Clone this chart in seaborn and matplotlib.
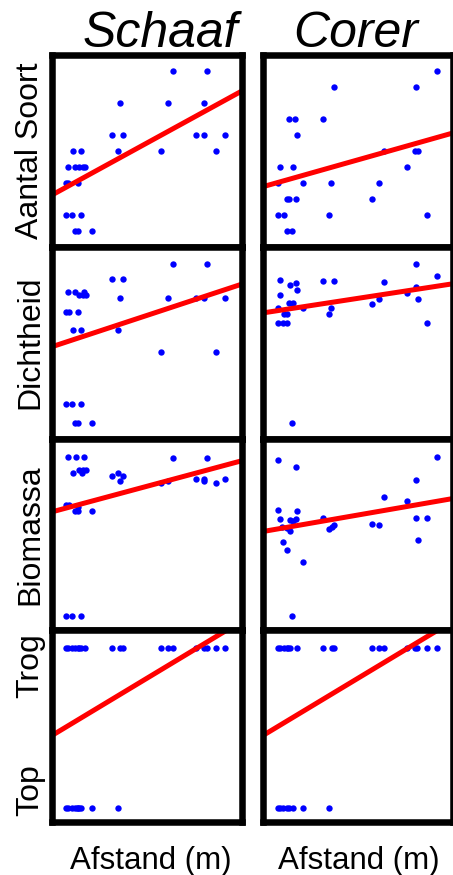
import matplotlib
matplotlib.use("Agg")
import matplotlib.pyplot as plt
import seaborn as sns

sns.set_theme(style="white")
plt.rcParams["font.family"] = ["Liberation Sans", "DejaVu Sans"]

# ---- data: distance (m) and response per method ----
# Aantal Soort (number of species)
soort_schaaf_x = [63.7, 81.2, 35.7, 60.7, 79.8, 31.3, 37.1, 75.4, 79.8, 90.8,
                  10.8, 15.2, 34.5, 57.0, 85.9, 8.6, 12.1, 14.3, 16.4, 17.3,
                  7.3, 8.6, 13.8, 7.3, 10.3, 15.2, 12.1, 13.8, 20.8]
soort_schaaf_y = [11, 11, 9, 9, 9, 7, 7, 7, 7, 7,
                  6, 6, 6, 6, 6, 5, 5, 5, 5, 5,
                  4, 4, 4, 2, 2, 2, 1, 1, 1]
soort_corer_x = [91.2, 37.3, 80.1, 13.8, 16.8, 31.7, 17.7, 63.5, 79.8, 81.5,
                 8.9, 15.6, 75.8, 7.7, 21.2, 35.7, 60.9, 12.4, 13.8, 17.3,
                 57.0, 8.0, 11.2, 34.6, 85.9, 12.4, 15.0]
soort_corer_y = [11, 10, 10, 8, 8, 8, 7, 6, 6, 6,
                 5, 5, 5, 4, 4, 4, 4, 3, 3, 3,
                 3, 2, 2, 2, 2, 1, 1]

# Dichtheid (density)
dicht_schaaf_x = [63.7, 81.2, 31.3, 37.1, 8.6, 12.1, 17.0, 14.3, 16.4, 17.8,
                  35.7, 60.7, 79.8, 90.8, 75.4, 7.3, 9.1, 13.8, 10.8, 15.2,
                  34.5, 57.0, 85.9, 7.3, 10.3, 15.2, 12.1, 13.8, 20.8]
dicht_schaaf_y = [3.64, 3.64, 3.33, 3.33, 3.06, 3.06, 3.06, 2.99, 2.99, 2.99,
                  2.93, 2.93, 2.93, 2.93, 2.94, 2.64, 2.64, 2.64, 2.26, 2.26,
                  2.26, 1.81, 1.81, 0.71, 0.71, 0.71, 0.32, 0.32, 0.32]
dicht_corer_x = [80.1, 91.2, 8.9, 31.7, 37.3, 17.1, 63.5, 14.2, 80.1, 17.7,
                 75.8, 8.9, 81.5, 60.9, 13.8, 15.6, 57.0, 7.7, 21.2, 35.7,
                 11.2, 12.4, 34.6, 8.0, 10.7, 12.4, 85.9, 15.0]
dicht_corer_y = [3.64, 3.40, 3.31, 3.28, 3.28, 3.25, 3.27, 3.21, 3.16, 3.10,
                 3.04, 2.99, 2.90, 2.90, 2.82, 2.82, 2.81, 2.73, 2.73, 2.72,
                 2.59, 2.59, 2.59, 2.41, 2.41, 2.41, 2.41, 0.32]

# Biomassa (biomass)
bio_schaaf_x = [8.6, 12.4, 17.0, 63.7, 81.2, 10.8, 15.6, 14.3, 16.4, 17.8,
                31.3, 37.1, 34.5, 35.7, 60.7, 57.0, 75.4, 79.8, 79.8, 85.9,
                90.8, 7.3, 9.1, 13.8, 12.1, 13.8, 20.8, 7.3, 10.3, 15.2]
bio_schaaf_y = [3.62, 3.62, 3.62, 3.60, 3.60, 3.29, 3.29, 3.34, 3.34, 3.34,
                3.22, 3.22, 3.29, 3.11, 3.11, 3.08, 3.15, 3.15, 3.11, 3.08,
                3.15, 2.61, 2.61, 2.58, 2.49, 2.49, 2.49, 0.30, 0.30, 0.30]
bio_corer_x = [91.2, 8.0, 17.3, 80.1, 63.5, 75.8, 8.0, 17.7, 8.9, 14.2,
               17.1, 15.6, 31.7, 80.1, 85.9, 9.8, 12.4, 14.2, 34.6, 36.0,
               37.3, 57.0, 60.9, 81.5, 10.7, 12.4, 21.2, 15.0]
bio_corer_y = [3.62, 3.55, 3.40, 3.14, 2.77, 2.69, 2.51, 2.48, 2.32, 2.31,
               2.32, 2.28, 2.34, 2.35, 2.35, 2.16, 2.14, 2.07, 2.11, 2.16,
               2.20, 2.22, 2.20, 1.89, 1.84, 1.68, 1.43, 0.30]

# Positie: Top = 0, Trog = 1
pos_schaaf_x = [7.3, 8.6, 10.3, 12.1, 13.8, 14.3, 15.2, 17.3, 31.3, 35.7,
                37.1, 57.0, 60.7, 63.7, 75.4, 79.8, 81.2, 85.9, 90.8,
                7.3, 8.6, 10.3, 12.1, 12.9, 13.8, 14.3, 15.2, 20.8, 34.5]
pos_schaaf_y = [1] * 19 + [0] * 10
pos_corer_x = [7.7, 8.9, 11.2, 12.4, 13.3, 14.2, 17.7, 31.7, 36.0, 37.3,
               57.0, 60.9, 63.5, 75.4, 79.8, 81.0, 85.9, 91.2,
               7.7, 8.9, 10.7, 12.4, 13.8, 15.6, 21.2, 34.6]
pos_corer_y = [1] * 18 + [0] * 8

# Linear fits (intercept, slope) per panel, row by row: Schaaf, Corer
fit_intercepts = [[3.24, 3.76], [1.915, 2.62], [2.47, 2.06], [0.454, 0.454]]
fit_slopes = [[0.0653, 0.0337], [0.0131, 0.0061], [0.0107, 0.0069], [0.00719, 0.00719]]

methods = ["Schaaf", "Corer"]
row_labels = ["Aantal Soort", "Dichtheid", "Biomassa"]
pos_labels = ["Trog", "Top"]
x_label = "Afstand (m)"

panels = [
    [(soort_schaaf_x, soort_schaaf_y), (soort_corer_x, soort_corer_y)],
    [(dicht_schaaf_x, dicht_schaaf_y), (dicht_corer_x, dicht_corer_y)],
    [(bio_schaaf_x, bio_schaaf_y), (bio_corer_x, bio_corer_y)],
    [(pos_schaaf_x, pos_schaaf_y), (pos_corer_x, pos_corer_y)],
]
ylims = [(0, 12), (0, 4), (0, 4), (-0.088, 1.113)]

# ---- layout ----
W, H = 453, 875
fig = plt.figure(figsize=(W / 100, H / 100), dpi=100)

col_left_px = [52, 263]
ax_w_px = 190.5
row_top_px = [55, 246.75, 438.5, 630.25]
ax_h_px = 191.75
border_lw = 4.7

for r in range(4):
    for c in range(2):
        left = col_left_px[c] / W
        bottom = 1 - (row_top_px[r] + ax_h_px) / H
        ax = fig.add_axes([left, bottom, ax_w_px / W, ax_h_px / H])
        xs, ys = panels[r][c]
        sns.scatterplot(x=xs, y=ys, ax=ax, color="#0000FF", s=21,
                        linewidth=0, edgecolor=None, zorder=2)
        ax.set_xlim(0, 100)
        ax.set_ylim(*ylims[r])
        ax.axline((0, fit_intercepts[r][c]), slope=fit_slopes[r][c],
                  color="#FF0000", lw=3.6, zorder=3, solid_capstyle="butt")
        ax.set_xticks([])
        ax.set_yticks([])
        ax.set_xlabel("")
        ax.set_ylabel("")
        for sp in ax.spines.values():
            sp.set_visible(True)
            sp.set_color("black")
            sp.set_linewidth(border_lw)
            sp.set_zorder(4)

# column titles
title_x_px = [160, 356]
for c, name in enumerate(methods):
    fig.text(title_x_px[c] / W, 1 - 47 / H, name, ha="center", va="baseline",
             fontsize=36, style="italic", color="black")

# row labels
label_x = 30 / W
for r, lab in enumerate(row_labels):
    yc = row_top_px[r] + ax_h_px / 2
    fig.text(label_x, 1 - yc / H, lab, rotation=90, ha="center", va="center",
             fontsize=23, color="black")
fig.text(label_x, 1 - 666 / H, pos_labels[0], rotation=90, ha="center",
         va="center", fontsize=23, color="black")
fig.text(label_x, 1 - 790 / H, pos_labels[1], rotation=90, ha="center",
         va="center", fontsize=23, color="black")

# x-axis labels under each column
xl_x_px = [151, 359]
for c in range(2):
    fig.text(xl_x_px[c] / W, 1 - 869 / H, x_label, ha="center", va="baseline",
             fontsize=22.5, color="black")

fig.savefig("out.png", dpi=100, facecolor="white")
